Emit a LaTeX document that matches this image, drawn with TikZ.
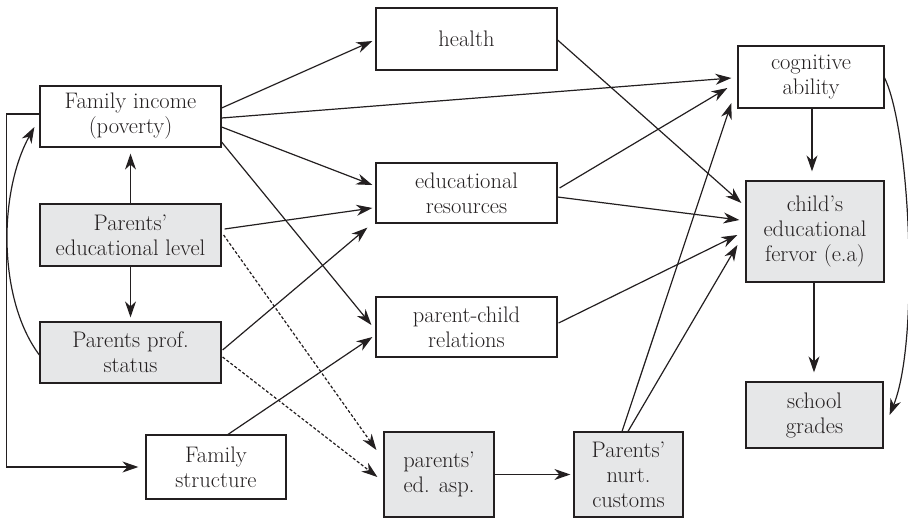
\documentclass[tikz,border=0pt]{standalone}
\usetikzlibrary{arrows.meta,calc}
\definecolor{boxgray}{HTML}{E6E7E8}
\definecolor{ink}{HTML}{231F20}
\begin{document}
\begin{tikzpicture}[x=1pt,y=-1pt,
  box/.style={draw=ink,line width=1.2pt,inner sep=0pt,align=center,text=ink,
    font=\rmfamily\fontsize{22.5}{25}\selectfont},
  gbox/.style={box,fill=boxgray},
  arr/.style={draw=ink,line width=1.2pt,-{Stealth[length=16pt,width=11pt,inset=5pt]}},
  darr/.style={arr,dash pattern=on 3pt off 2pt}]
\useasboundingbox (0,0) rectangle (908,519);
% nodes
\node[box,minimum width=181pt,minimum height=61pt] (fi) at (130.5,116.5) {Family income\\(poverty)};
\node[gbox,minimum width=181pt,minimum height=62pt] (pel) at (130.5,235) {Parents’\\educational level};
\node[gbox,minimum width=181pt,minimum height=61pt] (pps) at (130.5,352.5) {Parents prof.\\status};
\node[box,minimum width=140pt,minimum height=64pt] (fs) at (216,467) {Family\\structure};
\node[box,minimum width=181pt,minimum height=62pt] (health) at (466.5,39) {health};
\node[box,minimum width=181pt,minimum height=60pt] (er) at (466.5,193) {educational\\resources};
\node[box,minimum width=181pt,minimum height=60pt] (pcr) at (466.5,327) {parent-child\\relations};
\node[gbox,minimum width=110pt,minimum height=85pt] (asp) at (439,474.5) {parents’\\ed. asp.};
\node[gbox,minimum width=109pt,minimum height=85pt] (nurt) at (628.5,474.5) {Parents’\\nurt.\\customs};
\node[box,minimum width=146pt,minimum height=62pt] (cog) at (811,77) {cognitive\\ability};
\node[gbox,minimum width=138pt,minimum height=101pt] (fer) at (815,231.5) {child’s\\educational\\fervor (e.a)};
\node[gbox,minimum width=137pt,minimum height=66pt] (sg) at (814.5,415) {school\\grades};
% connectors from family income
\draw[arr] ($(fi.east)+(0,-8.5)$) -- ($(health.west)+(-3,2)$);
\draw[arr] ($(fi.east)+(0,1.5)$) -- ($(cog.west)+(-6,1)$);
\draw[arr] ($(fi.east)+(0,10.5)$) -- ($(er.west)+(-3,-8)$);
\draw[arr] ($(fi.east)+(0,25.5)$) -- ($(pcr.west)+(-4,-2)$);
% parents' educational level
\draw[arr] (pel.north) -- ($(fi.south)+(0,6)$);
\draw[arr] (pel.south) -- ($(pps.north)+(0,-4)$);
\draw[arr] ($(pel.east)+(3,-6)$) -- ($(er.west)+(-3,15)$);
\draw[darr] ($(pel.east)+(2,0)$) -- ($(asp.west)+(-7,-24.5)$);
% parents prof status
\draw[arr] ($(pps.east)+(1,-2.5)$) -- ($(er.south west)+(-8,4)$);
\draw[darr] ($(pps.east)+(1,4.5)$) -- ($(asp.west)+(-6,2.5)$);
\draw[arr] ($(pps.west)+(0,2.5)$) .. controls (-2,300) and (-2,193) .. ($(fi.west)+(-5,10.5)$);
% family structure
\draw[arr] ($(fs.north)+(12,0)$) -- ($(pcr.west)+(-3,10)$);
\draw[arr] ($(fi.west)+(0,-2.5)$) -- ++(-33,0) |- ($(fs.west)+(-7,0)$);
% middle column to right
\draw[arr] ($(health.east)+(0,1)$) -- ($(fer.west)+(-4,-28.5)$);
\draw[arr] ($(er.east)+(2,-5)$) -- ($(cog.west)+(-10,11)$);
\draw[arr] ($(er.east)+(0,4)$) -- ($(fer.west)+(-6,-11.5)$);
\draw[arr] ($(pcr.east)+(1,-4)$) -- ($(fer.west)+(-8,3.5)$);
\draw[arr] (asp.east) -- ($(nurt.west)+(-3,0)$);
\draw[arr] ($(nurt.north)+(-6.5,0)$) -- ($(cog.west)+(-6,26)$);
\draw[arr] ($(nurt.north)+(-0.5,0)$) -- ($(fer.west)+(-8,13.5)$);
% right column
\draw[arr] ($(cog.south)+(1,0)$) -- ($(fer.north)+(-3,-9)$);
\draw[arr] ($(fer.south)+(-1,0)$) -- ($(sg.north)+(-0.5,-9)$);
\draw[arr] ($(cog.east)+(0,1)$) .. controls (910,130) and (920,340) .. ($(sg.east)+(6,0)$);
\end{tikzpicture}
\end{document}
